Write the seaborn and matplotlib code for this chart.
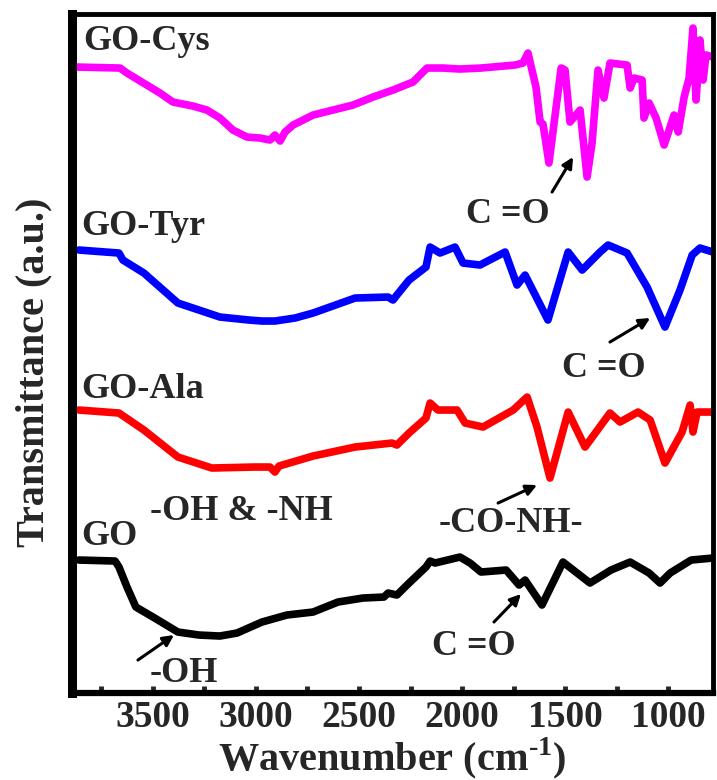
import matplotlib
matplotlib.use("Agg")
import matplotlib.pyplot as plt
import numpy as np
import pandas as pd
import seaborn as sns

# FTIR spectra, values (offset stacked, a.u.)
wn_cys = [3869, 3660, 3626, 3466, 3403, 3306, 3238, 3175, 3112, 3044, 2981, 2932, 2908, 2883,
          2859, 2820, 2723, 2626, 2529, 2432, 2335, 2238, 2170, 2092, 2010, 1908, 1743, 1704,
          1680, 1641, 1621, 1607, 1578, 1519, 1500, 1476, 1427, 1393, 1369, 1340, 1311, 1282,
          1199, 1184, 1165, 1126, 1117, 1092, 1058, 1019, 971, 951, 922, 898, 879, 864, 845,
          830, 816, 782]
t_cys = [6.26, 6.25, 6.20, 6.00, 5.91, 5.87, 5.83, 5.75, 5.63, 5.56, 5.55, 5.53, 5.58, 5.52,
         5.61, 5.68, 5.78, 5.83, 5.88, 5.96, 6.03, 6.11, 6.25, 6.25, 6.24, 6.25, 6.28, 6.30,
         6.40, 6.06, 5.71, 5.69, 5.30, 6.25, 6.23, 5.71, 5.83, 5.16, 5.50, 6.23, 5.95, 6.30,
         6.28, 6.05, 6.15, 6.13, 5.75, 5.90, 5.75, 5.48, 5.78, 5.61, 5.96, 6.15, 6.65, 5.93,
         6.53, 6.13, 6.38, 6.36]

wn_tyr = [3859, 3665, 3646, 3544, 3379, 3175, 3034, 2971, 2908, 2811, 2723, 2519, 2359, 2335,
          2316, 2257, 2175, 2155, 2107, 2034, 1995, 1913, 1791, 1733, 1694, 1583, 1485, 1417,
          1330, 1291, 1199, 1102, 1015, 942, 883, 845, 782]
t_tyr = [4.43, 4.40, 4.33, 4.20, 3.90, 3.76, 3.73, 3.72, 3.72, 3.75, 3.80, 3.95, 3.96, 3.93,
         3.98, 4.13, 4.26, 4.46, 4.40, 4.46, 4.30, 4.28, 4.41, 4.08, 4.18, 3.73, 4.41, 4.23,
         4.41, 4.48, 4.40, 4.06, 3.66, 4.03, 4.38, 4.45, 4.41]

wn_ala = [3859, 3665, 3544, 3379, 3214, 3010, 2932, 2908, 2888, 2723, 2519, 2340, 2316, 2257,
          2175, 2155, 2117, 2024, 1985, 1898, 1752, 1684, 1636, 1573, 1485, 1403, 1282, 1233,
          1146, 1087, 1015, 932, 893, 879, 859, 782]
t_ala = [2.83, 2.80, 2.63, 2.36, 2.25, 2.26, 2.26, 2.21, 2.27, 2.37, 2.46, 2.50, 2.48, 2.60,
         2.75, 2.90, 2.83, 2.83, 2.70, 2.66, 2.83, 2.96, 2.66, 2.15, 2.81, 2.46, 2.80, 2.71,
         2.81, 2.73, 2.30, 2.61, 2.88, 2.61, 2.81, 2.81]

wn_go = [3859, 3684, 3665, 3626, 3583, 3500, 3379, 3277, 3175, 3092, 2971, 2850, 2723, 2602,
         2481, 2379, 2359, 2316, 2257, 2175, 2155, 2131, 2010, 1961, 1908, 1786, 1723, 1694,
         1612, 1510, 1379, 1277, 1184, 1092, 1039, 990, 888, 782]
t_go = [1.33, 1.32, 1.26, 1.06, 0.86, 0.76, 0.61, 0.58, 0.57, 0.60, 0.71, 0.78, 0.81, 0.91,
        0.95, 0.96, 1.00, 0.98, 1.10, 1.26, 1.32, 1.30, 1.36, 1.30, 1.21, 1.23, 1.08, 1.13,
        0.88, 1.31, 1.10, 1.23, 1.31, 1.20, 1.10, 1.20, 1.33, 1.35]

samples = ["GO-Cys", "GO-Tyr", "GO-Ala", "GO"]
colors = ["#ff00ff", "#0000ff", "#ff0000", "#000000"]

df = pd.concat([
    pd.DataFrame({"wn": wn_cys, "T": t_cys, "sample": "GO-Cys"}),
    pd.DataFrame({"wn": wn_tyr, "T": t_tyr, "sample": "GO-Tyr"}),
    pd.DataFrame({"wn": wn_ala, "T": t_ala, "sample": "GO-Ala"}),
    pd.DataFrame({"wn": wn_go, "T": t_go, "sample": "GO"}),
])

sns.set_style("white")
plt.rcParams["font.family"] = ["Liberation Serif", "DejaVu Serif"]
plt.rcParams["font.weight"] = "bold"
plt.rcParams["mathtext.fontset"] = "custom"
plt.rcParams["mathtext.rm"] = "Liberation Serif:bold"
plt.rcParams["mathtext.bf"] = "Liberation Serif:bold"

fig = plt.figure(figsize=(7.17, 7.8), dpi=100)
ax = fig.add_axes([0.1004, 0.1115, 0.8940, 0.8705])

sns.lineplot(data=df, x="wn", y="T", hue="sample", hue_order=samples,
             palette=dict(zip(samples, colors)), estimator=None, sort=False,
             lw=5.5, legend=False, ax=ax)
for ln in ax.get_lines():
    ln.set_solid_joinstyle("round")

ax.set_xlim(3893, 782)
ax.set_ylim(0, 6.79)
ax.set_xticks([3500, 3000, 2500, 2000, 1500, 1000])
ax.set_xticks([3750, 3250, 2750, 2250, 1750, 1250], minor=True)
ax.tick_params(axis="x", which="both", direction="in", length=5, width=3.5,
               labelsize=27, pad=5, bottom=True, top=False)
ax.set_yticks([])
for side, lw in [("left", 6.5), ("right", 3.5), ("top", 3.5), ("bottom", 4.5)]:
    ax.spines[side].set_linewidth(lw)
    ax.spines[side].set_color("black")

ax.set_xlabel(r"Wavenumber (cm$^{\text{-1}}$)", fontsize=29, fontweight="bold", labelpad=0)
ax.set_ylabel("Transmittance (a.u.)", fontsize=29, fontweight="bold")
ax.yaxis.set_label_coords(-0.03, 0.473)

# sample names and band labels
fs = 26
ax.text(3840, 6.43, "GO-Cys", fontsize=fs, ha="left", va="baseline")
ax.text(3850, 4.58, "GO-Tyr", fontsize=fs, ha="left", va="baseline")
ax.text(3850, 2.95, "GO-Ala", fontsize=fs, ha="left", va="baseline")
ax.text(3850, 1.48, "GO", fontsize=fs, ha="left", va="baseline")
ax.text(3515, 1.73, "-OH & -NH", fontsize=fs, ha="left", va="baseline")
ax.text(2112, 1.61, "-CO-NH-", fontsize=fs, ha="left", va="baseline")
ax.text(1981, 4.70, "C =O", fontsize=fs, ha="left", va="baseline")
ax.text(1515, 3.16, "C =O", fontsize=fs, ha="left", va="baseline")
ax.text(2146, 0.38, "C =O", fontsize=fs, ha="left", va="baseline")
ax.text(3515, 0.11, "-OH", fontsize=fs, ha="left", va="baseline")

arrows = [((1461, 5.36), (1563, 5.01)),
          ((1087, 3.75), (1282, 3.51)),
          ((1636, 2.08), (1825, 1.90)),
          ((1714, 0.99), (1845, 0.71)),
          ((3398, 0.58), (3573, 0.33))]
for head, tail in arrows:
    ax.annotate("", xy=head, xytext=tail,
                arrowprops=dict(arrowstyle="-|>", lw=2.2, color="black",
                                mutation_scale=16, shrinkA=0, shrinkB=0))

fig.savefig("out.png", dpi=100)
